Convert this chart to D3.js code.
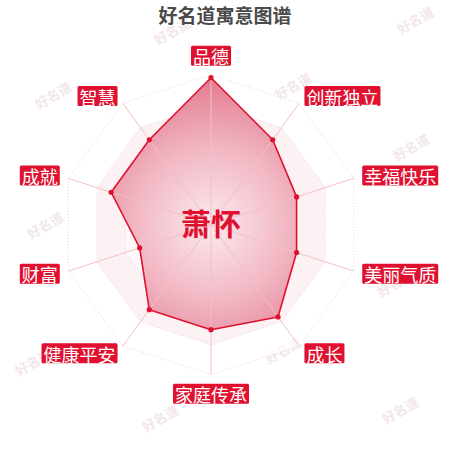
<!DOCTYPE html>
<html><head><meta charset="utf-8">
<script src="https://cdn.jsdelivr.net/npm/d3@7"></script>
<style>html,body{margin:0;padding:0;background:#fff}svg{display:block}</style>
</head><body><svg id="c" width="450" height="450"></svg>
<script>
const title = "好名道寓意图谱";
const centerName = "萧怀";
const indicators = ["品德","创新独立","幸福快乐","美丽气质","成长","家庭传承","健康平安","财富","成就","智慧"];
const values = [98,70,60,60,76,70,70,50,70,70];
const maxValue = 100;
const gridLevels = [20,40,60,80,100];
const watermarkText = "好名道";
const watermarkPositions = [[172,31],[415,20],[53,95],[293,86],[411,147],[45,225],[300,215],[395,283],[33,362],[283,350],[160,418],[400,410]];

const W = 450, H = 450, cx = 211, cy = 224.7, R = 150, labelR = 159;
const red = "#e0112f";
const font = "'Noto Sans CJK SC','Noto Sans',sans-serif";
const svg = d3.select("#c");
const n = indicators.length;
const r = d3.scaleLinear().domain([0, maxValue]).range([0, R]);
const ang = d3.scaleLinear().domain([0, n]).range([0, 2 * Math.PI]);

const defs = svg.append("defs");
const grad = defs.append("radialGradient").attr("id", "fillGrad")
  .attr("gradientUnits", "userSpaceOnUse").attr("cx", 0).attr("cy", 0).attr("r", R);
grad.append("stop").attr("offset", "0%").attr("stop-color", "#fbeaee");
grad.append("stop").attr("offset", "50%").attr("stop-color", "#f2b8c4");
grad.append("stop").attr("offset", "100%").attr("stop-color", "#e2788d");

// watermarks
svg.append("g").selectAll("text").data(watermarkPositions).join("text")
  .attr("transform", d => `translate(${d[0]},${d[1]}) rotate(-30)`)
  .attr("text-anchor", "middle").attr("dominant-baseline", "central")
  .attr("font-family", font).attr("font-weight", 700).attr("font-size", 13)
  .attr("fill", "#f4e6e8").text(watermarkText);

const g = svg.append("g").attr("transform", `translate(${cx},${cy})`);
const ringLine = d3.lineRadial().curve(d3.curveLinearClosed);
const ringPts = lv => d3.range(n).map(i => [ang(i), r(lv)]);

// split areas (alternating from inside)
const levels = [0].concat(gridLevels);
for (let k = gridLevels.length - 1; k >= 0; k--) {
  g.append("path").attr("d", ringLine(ringPts(levels[k + 1])))
    .attr("fill", k % 2 === 1 ? "#fcf2f4" : "#ffffff").attr("fill-opacity", k % 2 === 1 ? 1 : 0.6);
}
// grid lines
g.selectAll("path.ring").data(gridLevels).join("path").attr("class", "ring")
  .attr("d", lv => ringLine(ringPts(lv)))
  .attr("fill", "none").attr("stroke", "#f1cfd6").attr("stroke-width", 1)
  .attr("stroke-dasharray", "1,2");

// data area
const areaLine = d3.lineRadial().curve(d3.curveLinearClosed)
  .angle((d, i) => ang(i)).radius(d => r(d));
g.append("path").attr("d", areaLine(values))
  .attr("fill", "url(#fillGrad)").attr("stroke", "none");

// axis lines
g.selectAll("line.axis").data(indicators).join("line").attr("class", "axis")
  .attr("x1", 0).attr("y1", 0)
  .attr("x2", (d, i) => r(maxValue) * Math.sin(ang(i)))
  .attr("y2", (d, i) => -r(maxValue) * Math.cos(ang(i)))
  .attr("stroke", "#f3bfca").attr("stroke-width", 1);

g.append("path").attr("d", areaLine(values))
  .attr("fill", "none").attr("stroke", red).attr("stroke-width", 1.6)
  .attr("stroke-linejoin", "round");
g.selectAll("circle.pt").data(values).join("circle").attr("class", "pt")
  .attr("cx", (d, i) => r(d) * Math.sin(ang(i)))
  .attr("cy", (d, i) => -r(d) * Math.cos(ang(i)))
  .attr("r", 2.6).attr("fill", red);

// center name
g.append("text").attr("x", 0).attr("y", -3)
  .attr("text-anchor", "middle").attr("dominant-baseline", "central")
  .attr("font-family", font).attr("font-weight", 700).attr("font-size", 30)
  .attr("fill", red).text(centerName);

// labels
indicators.forEach((name, i) => {
  const a = ang(i), s = Math.sin(a), c = Math.cos(a);
  const px = labelR * s, py = -labelR * c;
  const lg = g.append("g");
  const t = lg.append("text").attr("font-family", font).attr("font-size", 18)
    .attr("fill", "#fff").attr("text-anchor", "middle").attr("dominant-baseline", "central")
    .text(name);
  const tw = t.node().getComputedTextLength();
  const bw = tw + 4, bh = 20;
  let bx, by;
  if (s > 0.01) bx = px; else if (s < -0.01) bx = px - bw; else bx = px - bw / 2;
  if (Math.abs(s) <= 0.01) by = c > 0 ? py - bh : py; else by = py - bh / 2;
  lg.insert("rect", "text").attr("x", bx).attr("y", by).attr("width", bw).attr("height", bh)
    .attr("rx", 1.5).attr("fill", red);
  t.attr("x", bx + bw / 2).attr("y", by + bh / 2 + 0.5);
});

// title
svg.append("text").attr("x", W / 2).attr("y", 14)
  .attr("text-anchor", "middle").attr("dominant-baseline", "central")
  .attr("font-family", font).attr("font-weight", 700).attr("font-size", 19)
  .attr("fill", "#4a4a4a").text(title);
</script></body></html>
